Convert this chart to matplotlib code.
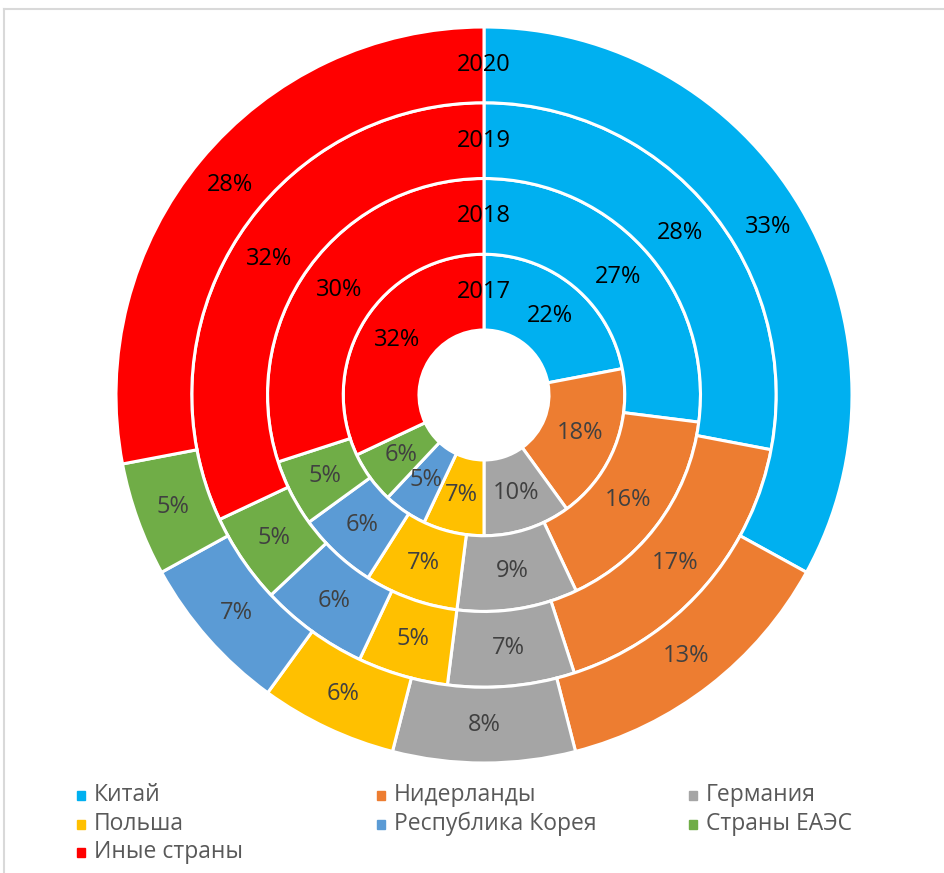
import matplotlib.pyplot as plt
import numpy as np

countries = ["Китай", "Нидерланды", "Германия", "Польша",
             "Республика Корея", "Страны ЕАЭС", "Иные страны"]
years = ["2017", "2018", "2019", "2020"]
v2017 = [22, 18, 10, 7, 5, 6, 32]
v2018 = [27, 16, 9, 7, 6, 5, 30]
v2019 = [28, 17, 7, 5, 6, 5, 32]
v2020 = [33, 13, 8, 6, 7, 5, 28]
shares = [v2017, v2018, v2019, v2020]

colors = ["#00B0F0", "#ED7D31", "#A5A5A5", "#FFC000",
          "#5B9BD5", "#70AD47", "#FF0000"]
lbl_colors = ["black", "#404040", "#404040", "#404040",
              "#404040", "#404040", "black"]

plt.rcParams['font.family'] = ['Open Sans', 'DejaVu Sans']

W, H = 945, 873
fig = plt.figure(figsize=(W/100, H/100), dpi=100)
ax = fig.add_axes([0, 0, 1, 1])
ax.set_aspect('equal')
ax.axis('off')

# light chart-area border (cropped on the right/bottom)
fig.add_artist(plt.Line2D([4/W, 4/W], [0, 1 - 9/H], color="#D9D9D9", lw=1.5))
fig.add_artist(plt.Line2D([4/W, 1], [1 - 9/H, 1 - 9/H], color="#D9D9D9", lw=1.5))

cx, cy = 484, H - 395
hole = 65
ring_w = (368 - hole) / 4

for i, vals in enumerate(shares):
    r_out = hole + ring_w * (i + 1)
    wedges, _ = ax.pie(vals, radius=r_out, center=(cx, cy), colors=colors,
                       startangle=90, counterclock=False,
                       wedgeprops=dict(width=ring_w, edgecolor="white", linewidth=2.2))
    r_mid = r_out - ring_w / 2
    for w, v, c in zip(wedges, vals, lbl_colors):
        ang = np.deg2rad((w.theta1 + w.theta2) / 2)
        ax.text(cx + r_mid * np.cos(ang), cy + r_mid * np.sin(ang), f"{v}%",
                ha="center", va="center", fontsize=17, color=c)
    ax.text(cx, cy + r_mid, years[i], ha="center", va="center",
            fontsize=17, color="black")

ax.set_xlim(0, W)
ax.set_ylim(0, H)

# legend
col_x = [81, 381, 693]
row_y = [795, 824, 852]
for k, (name, col) in enumerate(zip(countries, colors)):
    x = col_x[k % 3]
    y = H - row_y[k // 3]
    ax.add_patch(plt.Rectangle((x - 4, y - 5), 8, 9, color=col))
    ax.text(x + 13, y, name, ha="left", va="center", fontsize=16.5, color="#595959")

fig.savefig("out.png", dpi=100, facecolor="white")
